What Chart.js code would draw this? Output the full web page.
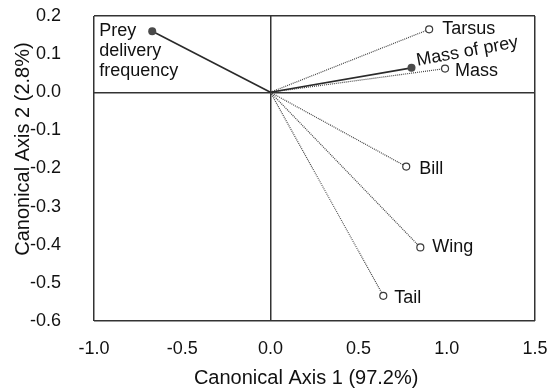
<!DOCTYPE html>
<html>
<head>
<meta charset="utf-8">
<script src="https://cdn.jsdelivr.net/npm/chart.js@4/dist/chart.umd.min.js"></script>
<style>
  html, body { margin: 0; padding: 0; background: #ffffff; }
  #wrap { width: 560px; height: 391px; }
</style>
</head>
<body>
<div id="wrap"><canvas id="biplot"></canvas></div>
<script>
// Canonical loadings of each variable on the first two axes
const variables = ['Prey delivery frequency', 'Mass of prey', 'Tarsus', 'Mass', 'Bill', 'Wing', 'Tail'];
const axis1 = [-0.67, 0.80, 0.90, 0.99, 0.77, 0.85, 0.64];
const axis2 = [0.16, 0.064, 0.165, 0.062, -0.195, -0.407, -0.534];
// Provisioning variables are drawn as solid vectors with filled tips
const provisioning = ['Prey delivery frequency', 'Mass of prey'];

const xTicks = [-1.0, -0.5, 0.0, 0.5, 1.0, 1.5];
const yTicks = [0.2, 0.1, 0.0, -0.1, -0.2, -0.3, -0.4, -0.5, -0.6];

const FONT = '"Liberation Sans", Arial, Helvetica, sans-serif';
const INK = '#333333';

// Label placement relative to each vector tip (pixels)
const labelStyle = {
  'Prey delivery frequency': { lines: ['Prey', 'delivery', 'frequency'], dx: -53, dy: 0, lh: 20, baseline: 'middle' },
  'Mass of prey': { lines: ['Mass of prey'], dx: 6, dy: -2, angle: -10.5, baseline: 'alphabetic' },
  'Tarsus': { lines: ['Tarsus'], dx: 13, dy: 0, baseline: 'middle' },
  'Mass': { lines: ['Mass'], dx: 10, dy: 2, baseline: 'middle' },
  'Bill': { lines: ['Bill'], dx: 13, dy: 2, baseline: 'middle' },
  'Wing': { lines: ['Wing'], dx: 12, dy: 0, baseline: 'middle' },
  'Tail': { lines: ['Tail'], dx: 11, dy: 2, baseline: 'middle' }
};

const datasets = variables.map((name, i) => {
  const solid = provisioning.includes(name);
  return {
    label: name,
    data: [{ x: 0, y: 0 }, { x: axis1[i], y: axis2[i] }],
    showLine: true,
    borderColor: solid ? '#2a2a2a' : '#444444',
    borderWidth: solid ? 1.6 : 1.2,
    borderDash: solid ? [] : [1, 1],
    pointRadius: [0, solid ? 4 : 3.5],
    pointBorderWidth: solid ? 0 : 1.2,
    pointBorderColor: '#3a3a3a',
    pointBackgroundColor: solid ? '#4a4a4a' : '#ffffff',
    pointHoverRadius: 0
  };
});

const vectorLabels = {
  id: 'vectorLabels',
  afterDatasetsDraw(chart) {
    const { ctx, scales: { x, y } } = chart;
    ctx.save();
    ctx.fillStyle = '#111111';
    ctx.font = '18px ' + FONT;
    ctx.textAlign = 'left';
    variables.forEach((name, i) => {
      const s = labelStyle[name];
      const px = x.getPixelForValue(axis1[i]) + s.dx;
      const py = y.getPixelForValue(axis2[i]) + s.dy;
      ctx.save();
      ctx.translate(px, py);
      if (s.angle) ctx.rotate(s.angle * Math.PI / 180);
      ctx.textBaseline = s.baseline;
      s.lines.forEach((line, k) => ctx.fillText(line, 0, k * (s.lh || 0)));
      ctx.restore();
    });
    ctx.restore();
  }
};

// Only the frame edges and the zero lines are drawn from the grid
function frameColor(ticksArr) {
  return (c) => {
    if (!c.tick) return 'transparent';
    const v = c.tick.value;
    const last = ticksArr.length - 1;
    return (Math.abs(v) < 1e-9 || c.index === 0 || c.index === last) ? INK : 'transparent';
  };
}

new Chart(document.getElementById('biplot'), {
  type: 'scatter',
  data: { datasets },
  options: {
    responsive: true,
    maintainAspectRatio: false,
    animation: false,
    events: [],
    layout: { padding: { top: 16, right: 25, bottom: 0, left: 0 } },
    plugins: { legend: { display: false }, tooltip: { enabled: false } },
    scales: {
      x: {
        type: 'linear',
        min: -1.0, max: 1.5,
        afterBuildTicks: (axis) => { axis.ticks = xTicks.map(v => ({ value: v })); },
        afterFit: (axis) => { axis.height = 70; axis.paddingLeft = 0; axis.paddingRight = 10; },
        border: { display: false },
        grid: { color: frameColor(xTicks), lineWidth: 1.5, drawTicks: false, tickLength: 0 },
        ticks: {
          padding: 17,
          color: '#111111',
          font: { family: FONT, size: 18 },
          maxRotation: 0,
          callback: (v) => (Math.abs(v) < 1e-9 ? 0 : v).toFixed(1)
        },
        title: {
          display: true,
          text: 'Canonical Axis 1 (97.2%)   ',
          color: '#111111',
          font: { family: FONT, size: 20 },
          padding: { top: 0, bottom: 1 }
        }
      },
      y: {
        type: 'linear',
        min: -0.6, max: 0.2,
        afterBuildTicks: (axis) => { axis.ticks = yTicks.map(v => ({ value: v })); },
        afterFit: (axis) => { axis.width = 94; axis.paddingTop = 8; axis.paddingBottom = 8; },
        border: { display: false },
        grid: { color: frameColor(yTicks), lineWidth: 1.5, drawTicks: false, tickLength: 0 },
        ticks: {
          padding: 33,
          color: '#111111',
          font: { family: FONT, size: 18 },
          callback: (v) => (Math.abs(v) < 1e-9 ? 0 : v).toFixed(1)
        },
        title: {
          display: true,
          text: '       Canonical Axis 2 (2.8%)',
          color: '#111111',
          font: { family: FONT, size: 20 },
          padding: { top: 11, bottom: 0 }
        }
      }
    }
  },
  plugins: [vectorLabels]
});
</script>
</body>
</html>
